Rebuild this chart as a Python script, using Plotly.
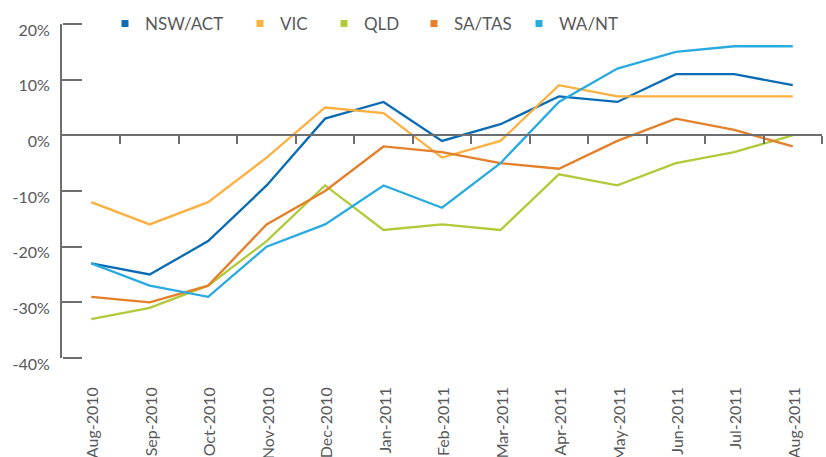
import plotly.graph_objects as go

months = ["Aug-2010", "Sep-2010", "Oct-2010", "Nov-2010", "Dec-2010", "Jan-2011",
          "Feb-2011", "Mar-2011", "Apr-2011", "May-2011", "Jun-2011", "Jul-2011", "Aug-2011"]

nsw_act = [-23, -25, -19, -9, 3, 6, -1, 2, 7, 6, 11, 11, 9]
vic = [-12, -16, -12, -4, 5, 4, -4, -1, 9, 7, 7, 7, 7]
qld = [-33, -31, -27, -19, -9, -17, -16, -17, -7, -9, -5, -3, 0]
sa_tas = [-29, -30, -27, -16, -10, -2, -3, -5, -6, -1, 3, 1, -2]
wa_nt = [-23, -27, -29, -20, -16, -9, -13, -5, 6, 12, 15, 16, 16]

series_names = ["NSW/ACT", "VIC", "QLD", "SA/TAS", "WA/NT"]
series_values = [nsw_act, vic, qld, sa_tas, wa_nt]
series_colors = ["#0a6cb4", "#fbb040", "#b2c93a", "#e47f2a", "#29abe2"]

y_tick_vals = [-40, -30, -20, -10, 0, 10, 20]
y_tick_text = ["-40%", "-30%", "-20%", "-10%", "0%", "10%", "20%"]

axis_col = "#6d6e71"
text_col = "#58595b"
font_family = "Lato, 'Open Sans', sans-serif"

W, H = 826, 457
ML, MR, MT, MB = 62, 4, 24, 99
plot_w = W - ML - MR

# legend marker pixel positions (layout)
legend_marker_px = [125, 260, 344, 434, 539]

fig = go.Figure()
legend_ids = ["legend"] + ["legend%d" % (i + 2) for i in range(len(series_names) - 1)]

for name, vals, col, lid in zip(series_names, series_values, series_colors, legend_ids):
    fig.add_trace(go.Scatter(x=months, y=vals, mode="lines", name=name,
                             line=dict(color=col, width=2.3), showlegend=False,
                             hoverinfo="skip"))
    fig.add_trace(go.Scatter(x=[None], y=[None], mode="markers", name=name,
                             marker=dict(color=col, symbol="square", size=7),
                             showlegend=True, legend=lid))

n = len(months)
boundaries = [i + 0.5 for i in range(n)]
y_range = [y_tick_vals[0], y_tick_vals[-1]]
# helper traces that carry the overlay axes (draw nothing)
fig.add_trace(go.Scatter(x=[0], y=[0], xaxis="x2", mode="none", showlegend=False,
                         hoverinfo="skip"))
fig.add_trace(go.Scatter(x=[months[0]], y=[0], yaxis="y2", mode="none", showlegend=False,
                         hoverinfo="skip"))

legend_layout = {}
for lid, mpx in zip(legend_ids, legend_marker_px):
    legend_layout[lid] = dict(orientation="h", x=(mpx - 20 - ML) / plot_w, y=1.0,
                              xanchor="left", yanchor="middle",
                              font=dict(size=17, color=text_col),
                              bgcolor="rgba(0,0,0,0)")

fig.update_layout(
    width=W, height=H,
    margin=dict(l=ML, r=MR, t=MT, b=MB, autoexpand=False),
    paper_bgcolor="white", plot_bgcolor="white",
    font=dict(family=font_family, color=text_col, size=15),
    showlegend=True,
    xaxis=dict(type="category", categoryorder="array", categoryarray=months,
               range=[-0.5, n - 0.5], showline=False, showgrid=False, zeroline=False,
               ticks="", tickangle=-90, ticklabelstandoff=25, ticklabelshift=2,
               tickfont=dict(size=16, color=text_col)),
    xaxis2=dict(overlaying="x", anchor="free", position=-y_range[0] / (y_range[1] - y_range[0]),
                range=[-0.5, n - 0.5], showline=True, linecolor=axis_col, linewidth=2,
                showgrid=False, zeroline=False, showticklabels=False,
                tickmode="array", tickvals=boundaries,
                ticks="outside", ticklen=8, tickwidth=2, tickcolor=axis_col),
    yaxis=dict(range=y_range, tickmode="array", tickvals=y_tick_vals, ticktext=y_tick_text,
               showline=True, linecolor=axis_col, linewidth=2, showgrid=False, zeroline=False,
               ticks="inside", ticklen=19, tickwidth=2, tickcolor=axis_col,
               ticklabelshift=6, ticklabelstandoff=7,
               tickfont=dict(size=16, color=text_col)),
    yaxis2=dict(overlaying="y", anchor="free", position=0, side="right",
                range=y_range, tickmode="array", tickvals=y_tick_vals,
                showline=False, showgrid=False, zeroline=False, showticklabels=False,
                ticks="outside", ticklen=19, tickwidth=2, tickcolor=axis_col),
    **legend_layout,
)

fig.write_html("out.html", config={"displayModeBar": False},
               post_script="document.body.style.margin='0';")
